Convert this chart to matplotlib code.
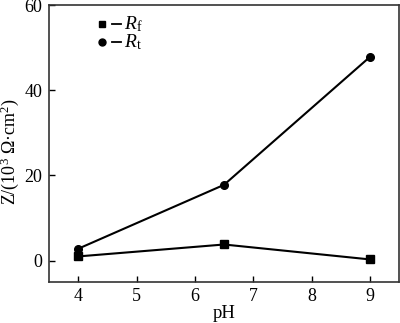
import matplotlib
matplotlib.use("Agg")
import matplotlib.pyplot as plt
from matplotlib.lines import Line2D

plt.rcParams['font.family'] = ['Liberation Serif', 'DejaVu Serif']
plt.rcParams['mathtext.fontset'] = 'custom'
plt.rcParams['mathtext.rm'] = 'Liberation Serif'
plt.rcParams['mathtext.it'] = 'Liberation Serif:italic'

ph = [4, 6.5, 9]
r_f = [1.0, 3.8, 0.3]
r_t = [2.8, 17.8, 47.8]

fig = plt.figure(figsize=(4.0, 3.23), dpi=100)
ax = fig.add_axes([49/400, 41/323, 350/400, 277/323])

ax.plot(ph, r_f, color='black', lw=1.5, marker='s', ms=5.5)
ax.plot(ph, r_t, color='black', lw=1.5, marker='o', ms=5.5)

ax.set_xlim(3.5, 9.5)
ax.set_ylim(-5, 60)
ax.set_xticks([4, 5, 6, 7, 8, 9])
ax.set_yticks([0, 20, 40, 60])
ax.tick_params(axis='both', direction='in', length=4, width=1, labelsize=13)
ax.tick_params(axis='x', pad=4)
ax.tick_params(axis='y', pad=5)
for s in ax.spines.values():
    s.set_linewidth(1.2)
    s.set_color('#333333')

ax.set_xlabel('pH', fontsize=13.5, labelpad=0)
ax.set_ylabel(r'Z/(10$^3$ Ω·cm$^2$)', fontsize=13)
ax.yaxis.set_label_coords(-0.08, 0.47)

# legend drawn by hand: marker, short dash, label
for yy, mk, lab in [(0.93, 's', r'$R_\mathrm{f}$'), (0.866, 'o', r'$R_\mathrm{t}$')]:
    ax.plot([0.151], [yy], transform=ax.transAxes, marker=mk, color='black', ms=5, clip_on=False)
    ax.add_line(Line2D([0.18, 0.205], [yy, yy], transform=ax.transAxes, color='black', lw=1.3))
    ax.text(0.213, yy, lab, transform=ax.transAxes, fontsize=14, va='center', ha='left')

fig.savefig('out.png', dpi=100)
